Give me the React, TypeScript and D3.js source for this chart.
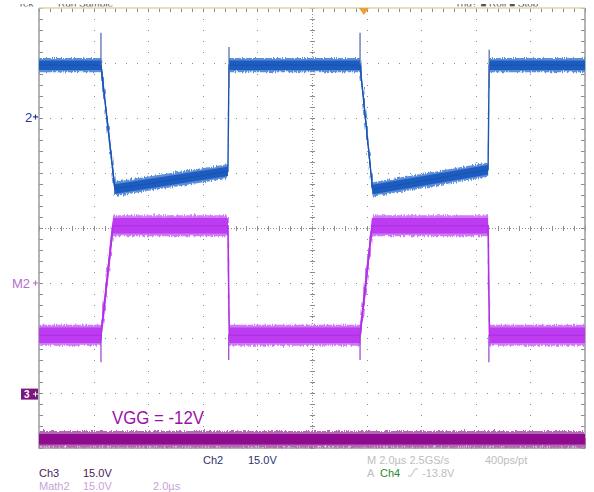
import * as d3 from 'd3';

// screen is 10 x 8 divisions, 2.0 µs/div horizontally
const screenTime = [0, 20];
const screenLevel = [-4, 4];

// Ch2 (blue) - centre of the trace, in divisions
const ch2Time = [0, 2.27, 2.78, 6.92, 6.96, 11.76, 12.22, 16.45, 16.49, 20];
const ch2Level = [2.96, 2.96, 0.71, 1.03, 2.96, 2.96, 0.70, 1.06, 2.96, 2.96];
const ch2SpikeTime = [2.27, 6.96, 11.76, 16.49];
const ch2SpikeTop = [3.55, 3.29, 3.55, 3.24];
const ch2SpikeBottom = [2.96, 2.55, 2.96, 2.55];

// Math2 (violet)
const mathTime = [0, 2.27, 2.71, 6.92, 6.97, 11.76, 12.2, 16.45, 16.5, 20];
const mathLevel = [-1.95, -1.95, 0.04, 0.04, -1.95, -1.95, 0.04, 0.04, -1.95, -1.95];
const mathSpikeTime = [2.27, 6.95, 11.76, 16.48];
const mathSpikeBottom = [-2.44, -2.4, -2.4, -2.44];

// Ch3 (dark magenta) - flat
const ch3Time = [0, 20];
const ch3Level = [-3.84, -3.84];

// channel ground markers on the left edge
const markerLevel = { ch2: 2.02, math2: -1.0, ch3: -3.02 };
const triggerTime = 11.9;

const readoutLeft = [
  ['Ch3', '15.0V'],
  ['Math2', '15.0V', '2.0µs'],
];

export default function App() {
  const W = 594;
  const H = 492;
  const frame = { left: 39, right: 585, top: 8, bottom: 448 };
  const x = d3.scaleLinear().domain(screenTime).range([frame.left, frame.right]);
  const y = d3.scaleLinear().domain(screenLevel).range([frame.bottom, frame.top]);

  const band = (t: number[], v: number[], half: number) =>
    d3.area<number>()
      .x(i => x(t[i]))
      .y0(i => y(v[i] - half))
      .y1(i => y(v[i] + half))(d3.range(t.length)) || '';
  const line = (t: number[], v: number[]) =>
    d3.line<number>().x(i => x(t[i])).y(i => y(v[i]))(d3.range(t.length)) || '';

  const majorT = d3.range(0, 20.001, 2);
  const majorV = d3.range(-4, 4.001, 1);
  const minorT = d3.range(0, 20.001, 0.4);
  const minorV = d3.range(-4, 4.001, 0.2);

  const gridColor = '#8c8c8c';
  const font = 'Liberation Sans, Arial, sans-serif';

  return (
    <svg width={W} height={H} style={{ position: 'absolute', left: 0, top: 0, background: '#fff' }}>
      <defs>
        <filter id="noise" x="-2%" y="-60%" width="104%" height="220%">
          <feTurbulence type="fractalNoise" baseFrequency="0.9 0.12" numOctaves="1" seed="4" result="t" />
          <feDisplacementMap in="SourceGraphic" in2="t" scale="6" xChannelSelector="R" yChannelSelector="G" />
        </filter>
        <clipPath id="topclip">
          <rect x={0} y={4} width={W} height={2.5} />
        </clipPath>
      </defs>

      {/* header readout, cut off at the top of the capture */}
      <g clipPath="url(#topclip)" fill="#555" fontFamily={font} fontSize={10}>
        <text x={18} y={6.5}>Tek</text>
        <text x={58} y={6.5}>Run Sample</text>
        <text x={455} y={6.5}>Trig?  ■ Roll  ■ Stop</text>
      </g>

      {/* graticule dots */}
      <g fill={gridColor}>
        {majorT.slice(1, -1).filter(t => t !== 10).map(t =>
          minorV.slice(1, -1).map(v => (
            <rect key={`v${t}_${v}`} x={Math.round(x(t))} y={Math.round(y(v))} width={1} height={1} />
          ))
        )}
        {majorV.slice(1, -1).filter(v => v !== 0).map(v =>
          minorT.slice(1, -1).map(t => (
            <rect key={`h${t}_${v}`} x={Math.round(x(t))} y={Math.round(y(v))} width={1} height={1} />
          ))
        )}
      </g>
      {/* centre crosshair */}
      <g stroke={gridColor} strokeWidth={1}>
        <line x1={frame.left} x2={frame.right} y1={y(0) + 0.5} y2={y(0) + 0.5} strokeDasharray="1 2" />
        <line x1={x(10) + 0.5} x2={x(10) + 0.5} y1={frame.top} y2={frame.bottom} strokeDasharray="1 2" />
        {minorT.map(t => (
          <line key={`ct${t}`} x1={Math.round(x(t)) + 0.5} x2={Math.round(x(t)) + 0.5} y1={y(0) - 2} y2={y(0) + 3} />
        ))}
        {minorV.map(v => (
          <line key={`cv${v}`} x1={x(10) - 2} x2={x(10) + 3} y1={Math.round(y(v)) + 0.5} y2={Math.round(y(v)) + 0.5} />
        ))}
        {/* edge ticks */}
        {minorT.map(t => (
          <g key={`et${t}`}>
            <line x1={Math.round(x(t)) + 0.5} x2={Math.round(x(t)) + 0.5} y1={frame.top} y2={frame.top + 4} />
            <line x1={Math.round(x(t)) + 0.5} x2={Math.round(x(t)) + 0.5} y1={frame.bottom - 4} y2={frame.bottom} />
          </g>
        ))}
        {minorV.map(v => (
          <g key={`ev${v}`}>
            <line x1={frame.left} x2={frame.left + 4} y1={Math.round(y(v)) + 0.5} y2={Math.round(y(v)) + 0.5} />
            <line x1={frame.right - 4} x2={frame.right} y1={Math.round(y(v)) + 0.5} y2={Math.round(y(v)) + 0.5} />
          </g>
        ))}
      </g>
      {/* frame */}
      <g fill="none" strokeWidth={1.5}>
        <path d={`M${frame.left},${frame.top}V${frame.bottom}H${frame.right}V${frame.top}`} stroke="#9a9a9a" />
        <line x1={frame.left} x2={frame.right} y1={frame.top} y2={frame.top} stroke="#dcd4a4" />
      </g>

      {/* trigger position marker */}
      <path d={`M${x(triggerTime) - 5},${frame.top}h10l-5,7z`} fill="#f0a030" />

      {/* Ch3 trace */}
      <g>
        <path d={band(ch3Time, ch3Level, 0.15)} fill="#b468b4" filter="url(#noise)" />
        <path d={band(ch3Time, ch3Level, 0.095)} fill="#8e0a8e" />
      </g>

      {/* Math2 trace */}
      <g>
        <path d={band(mathTime, mathLevel, 0.19)} fill="#cf7af5" filter="url(#noise)" />
        <path d={band(mathTime, mathLevel, 0.14)} fill="#bd3cf2" />
        <path d={line(mathTime, mathLevel)} fill="none" stroke="#b030e6" strokeWidth={1.6} />
        {mathSpikeTime.map((t, i) => (
          <line key={`ms${i}`} x1={x(t)} x2={x(t)} y1={y(mathLevel[1])} y2={y(mathSpikeBottom[i])} stroke="#a03cd0" strokeWidth={1.2} />
        ))}
      </g>

      {/* Ch2 trace */}
      <g>
        <path d={band(ch2Time, ch2Level, 0.13)} fill="#5d8fd8" filter="url(#noise)" />
        <path d={band(ch2Time, ch2Level, 0.085)} fill="#1d5cc0" />
        <path d={line(ch2Time, ch2Level)} fill="none" stroke="#1a55b0" strokeWidth={1.4} />
        {ch2SpikeTime.map((t, i) => (
          <line key={`bs${i}`} x1={x(t)} x2={x(t)} y1={y(ch2SpikeTop[i])} y2={y(ch2SpikeBottom[i])} stroke="#4a66b0" strokeWidth={1.2} />
        ))}
      </g>

      {/* VGG annotation */}
      <text x={112} y={424} fill="#9c10aa" fontFamily={font} fontSize={18} textLength={92} lengthAdjust="spacingAndGlyphs">
        VGG = -12V
      </text>

      {/* channel markers */}
      <g fontFamily={font} fontSize={13}>
        <text x={25} y={y(markerLevel.ch2) + 5} fill="#2a3a9a">2</text>
        <path d={`M${frame.left - 6},${y(markerLevel.ch2)}h5m-2.5,-2.5v5`} stroke="#2a3a9a" strokeWidth={1.2} />
        <text x={12} y={y(markerLevel.math2) + 5} fill="#b070d0">M2</text>
        <path d={`M${frame.left - 6},${y(markerLevel.math2)}h5m-2.5,-2.5v5`} stroke="#b070d0" strokeWidth={1.2} />
        <rect x={21} y={y(markerLevel.ch3) - 5.5} width={17} height={11} fill="#7a1680" />
        <text x={24} y={y(markerLevel.ch3) + 4} fill="#fff" fontSize={10} fontWeight="bold">3</text>
        <path d={`M${frame.left - 6},${y(markerLevel.ch3)}h5m-2.5,-2.5v5`} stroke="#fff" strokeWidth={1} />
      </g>

      {/* bottom readouts */}
      <g fontFamily={font} fontSize={11}>
        <text x={203} y={464} fill="#2c3470">Ch2</text>
        <text x={248} y={464} fill="#2c3470">15.0V</text>
        <text x={39} y={477} fill="#4a1a5a">{readoutLeft[0][0]}</text>
        <text x={83} y={477} fill="#4a1a5a">{readoutLeft[0][1]}</text>
        <text x={39} y={490} fill="#c8a4d8">{readoutLeft[1][0]}</text>
        <text x={83} y={490} fill="#c8a4d8">{readoutLeft[1][1]}</text>
        <text x={153} y={490} fill="#c8a4d8">{readoutLeft[1][2]}</text>
        <text x={367} y={464} fill="#bdbdbd">M 2.0µs 2.5GS/s</text>
        <text x={485} y={464} fill="#bdbdbd">400ps/pt</text>
        <text x={367} y={477} fill="#bdbdbd">A</text>
        <text x={380} y={477} fill="#2e8a2e">Ch4</text>
        <path d="M408,476l3,0l4,-7l3,0" fill="none" stroke="#bdbdbd" strokeWidth={1} />
        <text x={422} y={477} fill="#bdbdbd">-13.8V</text>
      </g>
    </svg>
  );
}
